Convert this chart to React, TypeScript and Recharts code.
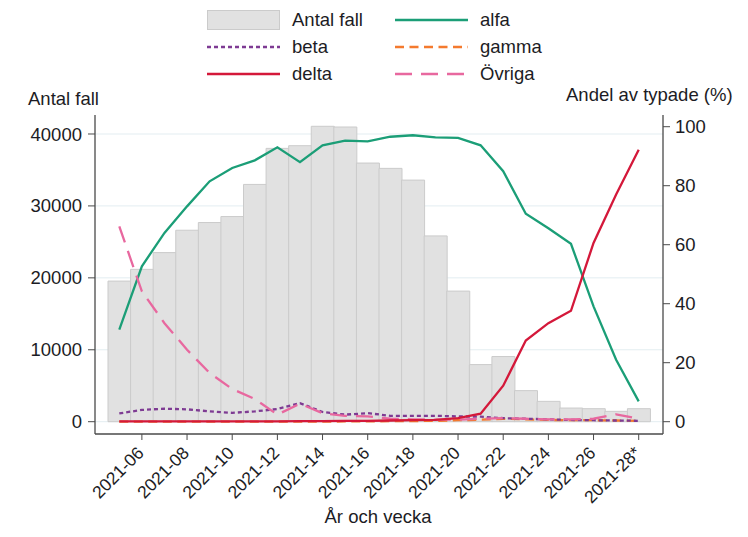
import React from 'react';
import { ComposedChart, Bar, Line, XAxis, YAxis, CartesianGrid } from 'recharts';

const weeks = ['2021-05','2021-06','2021-07','2021-08','2021-09','2021-10','2021-11','2021-12','2021-13','2021-14','2021-15','2021-16','2021-17','2021-18','2021-19','2021-20','2021-21','2021-22','2021-23','2021-24','2021-25','2021-26','2021-27','2021-28*'];
const antalFall = [19550, 21180, 23510, 26620, 27690, 28520, 32990, 38000, 38370, 41070, 40970, 35960, 35220, 33590, 25830, 18160, 7940, 9060, 4320, 2830, 1900, 1810, 1440, 1810];
const alfa = [31.2, 52.7, 64.0, 73.0, 81.5, 86.0, 88.6, 93.0, 88.0, 93.7, 95.3, 95.0, 96.6, 97.1, 96.4, 96.2, 93.7, 84.9, 70.5, 65.6, 60.3, 39.1, 21.0, 6.9];
const beta = [2.8, 4.0, 4.4, 4.2, 3.5, 3.0, 3.5, 4.3, 6.3, 3.3, 2.4, 2.9, 2.0, 2.0, 2.0, 1.8, 1.7, 1.2, 1.0, 0.8, 0.6, 0.5, 0.4, 0.3];
const gamma = [0, 0, 0, 0, 0, 0, 0, 0, 0, 0, 0.1, 0.1, 0.2, 0.2, 0.3, 0.5, 0.7, 1.0, 0.8, 0.6, 0.5, 0.5, 0.4, 0.3];
const delta = [0.1, 0.1, 0.1, 0.1, 0.1, 0.1, 0.1, 0.1, 0.2, 0.2, 0.3, 0.3, 0.4, 0.5, 0.6, 1.2, 2.7, 12.2, 27.5, 33.4, 37.6, 60.6, 77.0, 92.2];
const ovriga = [66.2, 44.2, 33.4, 24.4, 16.5, 11.1, 7.7, 2.4, 6.1, 2.9, 2.0, 1.8, 1.0, 0.8, 0.7, 0.7, 1.0, 1.2, 1.0, 0.8, 0.8, 1.0, 2.5, 1.0];
const xTicks = ['2021-06','2021-08','2021-10','2021-12','2021-14','2021-16','2021-18','2021-20','2021-22','2021-24','2021-26','2021-28*'];
const leftTicks = [0, 10000, 20000, 30000, 40000];
const rightTicks = [0, 20, 40, 60, 80, 100];

const data = weeks.map((w, i) => ({
  week: w,
  antal: antalFall[i],
  alfa: alfa[i],
  beta: beta[i],
  gamma: gamma[i],
  delta: delta[i],
  ovriga: ovriga[i],
}));

const FONT = '"Liberation Sans", Arial, sans-serif';
const TEXT = '#1c1c24';
const AXIS = '#4a4a4a';
const C = {
  alfa: '#1b9e77',
  beta: '#7e3b93',
  gamma: '#f47a2e',
  delta: '#d4183a',
  ovriga: '#e8689f',
  barFill: '#e1e1e1',
  barStroke: '#cbcbcb',
};

const XTick = (props: any) => {
  const { x, y, payload } = props;
  const ax = x + 3;
  const ay = y + 12;
  return (
    <text x={ax} y={ay} transform={`rotate(-45 ${ax} ${ay})`} textAnchor="end" fontSize={17.5} fontFamily={FONT} fill={TEXT}>
      {payload.value}
    </text>
  );
};

const legendRows = [
  [{ kind: 'bar', label: 'Antal fall' }, { kind: 'line', label: 'alfa', color: C.alfa, dash: '' }],
  [{ kind: 'line', label: 'beta', color: C.beta, dash: '4 3' }, { kind: 'line', label: 'gamma', color: C.gamma, dash: '9 5.5' }],
  [{ kind: 'line', label: 'delta', color: C.delta, dash: '' }, { kind: 'line', label: 'Övriga', color: C.ovriga, dash: '17 9' }],
];

function Legend() {
  const rowY = [20, 47, 74];
  const colX = [207, 395];
  return (
    <>
      {legendRows.map((row, r) =>
        row.map((item: any, c) => (
          <div key={`${r}-${c}`} style={{ position: 'absolute', left: colX[c], top: rowY[r] - 13, height: 26, display: 'flex', alignItems: 'center' }}>
            <svg width={74} height={26} style={{ display: 'block' }}>
              {item.kind === 'bar' ? (
                <rect x={0.5} y={3.5} width={72} height={19} fill={C.barFill} stroke={C.barStroke} />
              ) : (
                <line x1={0} x2={73} y1={13} y2={13} stroke={item.color} strokeWidth={2.4} strokeDasharray={item.dash || undefined} />
              )}
            </svg>
            <span style={{ marginLeft: item.kind === 'bar' ? 11 : 11, fontFamily: FONT, fontSize: 18.5, color: TEXT, lineHeight: '26px', whiteSpace: 'nowrap' }}>{item.label}</span>
          </div>
        ))
      )}
    </>
  );
}

export default function App() {
  return (
    <div style={{ position: 'absolute', left: 0, top: 0, width: 748, height: 537, background: '#fff' }}>
      <Legend />
      <div style={{ position: 'absolute', left: 28, top: 87, fontFamily: FONT, fontSize: 18.5, color: TEXT, whiteSpace: 'nowrap', lineHeight: '24px' }}>Antal fall</div>
      <div style={{ position: 'absolute', left: 566, top: 83, fontFamily: FONT, fontSize: 18.5, color: TEXT, whiteSpace: 'nowrap', lineHeight: '24px' }}>Andel av typade (%)</div>
      <div style={{ position: 'absolute', left: 0, width: 756, top: 505, textAlign: 'center', fontFamily: FONT, fontSize: 18.5, color: TEXT, whiteSpace: 'nowrap', lineHeight: '24px' }}>År och vecka</div>
      <div style={{ position: 'absolute', left: 0, top: 0 }}>
        <ComposedChart width={748} height={537} data={data} margin={{ top: 115, right: 35, bottom: 43, left: 35 }} barCategoryGap={0}>
          <CartesianGrid yAxisId="left" vertical={false} stroke="#e3edf1" strokeWidth={1} horizontalValues={leftTicks} />
          <XAxis
            dataKey="week"
            ticks={xTicks}
            interval={0}
            height={60}
            padding={{ left: 13, right: 13 }}
            tickSize={6}
            tickLine={{ stroke: AXIS }}
            axisLine={{ stroke: AXIS, strokeWidth: 1.3 }}
            tick={<XTick />}
          />
          <YAxis
            yAxisId="left"
            orientation="left"
            width={60}
            domain={[-1710, 42640]}
            allowDataOverflow
            ticks={leftTicks}
            tickSize={7}
            tickMargin={6}
            axisLine={{ stroke: AXIS, strokeWidth: 1.3 }}
            tickLine={{ stroke: AXIS }}
            tick={{ fontSize: 18.5, fontFamily: FONT, fill: TEXT }}
          />
          <YAxis
            yAxisId="right"
            orientation="right"
            width={50}
            domain={[-4.17, 103.97]}
            allowDataOverflow
            ticks={rightTicks}
            tickSize={7}
            tickMargin={5}
            axisLine={{ stroke: AXIS, strokeWidth: 1.3 }}
            tickLine={{ stroke: AXIS }}
            tick={{ fontSize: 18.5, fontFamily: FONT, fill: TEXT }}
          />
          <Bar yAxisId="left" dataKey="antal" fill={C.barFill} stroke={C.barStroke} strokeWidth={1} isAnimationActive={false} />
          <Line yAxisId="right" type="linear" dataKey="alfa" stroke={C.alfa} strokeWidth={2.3} dot={false} isAnimationActive={false} />
          <Line yAxisId="right" type="linear" dataKey="gamma" stroke={C.gamma} strokeWidth={2.3} strokeDasharray="9 5.5" dot={false} isAnimationActive={false} />
          <Line yAxisId="right" type="linear" dataKey="beta" stroke={C.beta} strokeWidth={2.3} strokeDasharray="4 3" dot={false} isAnimationActive={false} />
          <Line yAxisId="right" type="linear" dataKey="ovriga" stroke={C.ovriga} strokeWidth={2.3} strokeDasharray="17 9" dot={false} isAnimationActive={false} />
          <Line yAxisId="right" type="linear" dataKey="delta" stroke={C.delta} strokeWidth={2.3} dot={false} isAnimationActive={false} />
        </ComposedChart>
      </div>
    </div>
  );
}
